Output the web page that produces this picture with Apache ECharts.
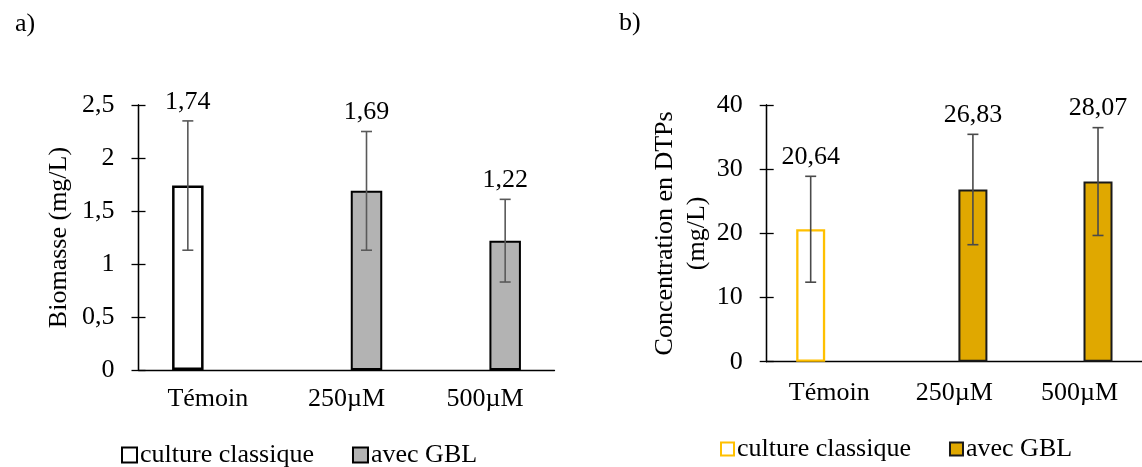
<!DOCTYPE html>
<html>
<head>
<meta charset="utf-8">
<script src="https://cdn.jsdelivr.net/npm/echarts@6/dist/echarts.min.js"></script>
<style>
html,body{margin:0;padding:0;background:#fff;}
#c{width:1142px;height:467px;}
</style>
</head>
<body>
<div id="c"></div>
<script>
// ---- data ----
const categories = ['Témoin', '250µM', '500µM'];
const biomasseClassique = [1.74, null, null];
const biomasseGBL = [null, 1.69, 1.22];
const biomasseErr = [0.61, 0.56, 0.39];
const dtpClassique = [20.64, null, null];
const dtpGBL = [null, 26.83, 28.07];
const dtpErr = [8.25, 8.6, 8.4];
const seriesNames = ['culture classique', 'avec GBL'];
const axisA = {min: 0, max: 2.5, interval: 0.5};
const axisB = {min: 0, max: 40, interval: 10};

// ---- style ----
const FONT = 'Liberation Serif';
const FS = 26;
const BW_A = 31.5, GAP_A = 0.27;
const BW_B = 29, GAP_B = 0.28;

function fmt(v) { return String(v).replace('.', ','); }

function errData(cls, gbl, err) {
  return categories.map((c, i) => {
    const side = cls[i] != null ? -1 : 1;
    const v = cls[i] != null ? cls[i] : gbl[i];
    return [i, v, err[i], side];
  });
}

function makeErrRender(bw, gapRatio, color) {
  return function (params, api) {
    const idx = api.value(0), v = api.value(1), e = api.value(2), side = api.value(3);
    const off = side * (bw + bw * gapRatio) / 2;
    const top = api.coord([idx, v + e]);
    const bot = api.coord([idx, v - e]);
    const x = top[0] + off;
    const cap = 5.5;
    const ls = {stroke: color, lineWidth: 1.6};
    return {
      type: 'group',
      children: [
        {type: 'line', shape: {x1: x, y1: top[1], x2: x, y2: bot[1]}, style: ls},
        {type: 'line', shape: {x1: x - cap, y1: top[1], x2: x + cap, y2: top[1]}, style: ls},
        {type: 'line', shape: {x1: x - cap, y1: bot[1], x2: x + cap, y2: bot[1]}, style: ls},
        {type: 'text', style: {x: x, y: top[1] - 19, text: v.toFixed(2).replace('.', ','),
          fontSize: FS, fontFamily: FONT, fill: '#000', align: 'center', verticalAlign: 'middle'}}
      ]
    };
  };
}

function yAxes(gridIndex, ax, name, nameGap) {
  const common = {
    type: 'value', gridIndex: gridIndex, position: 'left',
    min: ax.min, max: ax.max, interval: ax.interval,
    splitLine: {show: false},
    axisLine: {show: true, lineStyle: {color: '#000', width: 1.3}}
  };
  return [
    Object.assign({}, common, {
      name: name, nameLocation: 'middle', nameGap: nameGap,
      nameTextStyle: {fontSize: FS, fontFamily: FONT, color: '#000', lineHeight: 32},
      axisTick: {show: true, length: 7, lineStyle: {color: '#000', width: 1.3}},
      axisLabel: {fontSize: FS, fontFamily: FONT, color: '#000', margin: 24, formatter: fmt}
    }),
    Object.assign({}, common, {
      axisTick: {show: true, inside: true, length: 7, lineStyle: {color: '#000', width: 1.3}},
      axisLabel: {show: false}
    })
  ];
}

function xAxis(gridIndex, margin) {
  return {
    type: 'category', gridIndex: gridIndex, data: categories,
    axisLine: {show: true, lineStyle: {color: '#000', width: 1.3}},
    axisTick: {show: false},
    axisLabel: {interval: 0, fontSize: FS, fontFamily: FONT, color: '#000', margin: margin}
  };
}

const chart = echarts.init(document.getElementById('c'), null, {renderer: 'canvas'});
chart.setOption({
  backgroundColor: '#fff',
  animation: false,
  title: [
    {text: 'a)', left: 10, top: 6, textStyle: {fontSize: FS, fontFamily: FONT, fontWeight: 'normal', color: '#000'}},
    {text: 'b)', left: 614, top: 5, textStyle: {fontSize: FS, fontFamily: FONT, fontWeight: 'normal', color: '#000'}}
  ],
  grid: [
    {left: 138.5, right: 587.5, top: 105, bottom: 97},
    {left: 766.7, right: -8.6, top: 105, bottom: 105.3}
  ],
  xAxis: [xAxis(0, 16), xAxis(1, 18)],
  yAxis: [].concat(
    yAxes(0, axisA, 'Biomasse (mg/L)', 63),
    yAxes(1, axisB, 'Concentration en DTPs\n(mg/L)', 53)
  ),
  legend: [
    {left: 121, top: 442, padding: 0, itemWidth: 15, itemHeight: 15, itemGap: 38, icon: 'rect',
     data: ['a:' + seriesNames[0], 'a:' + seriesNames[1]],
     formatter: n => n.slice(2),
     textStyle: {fontSize: FS, fontFamily: FONT, color: '#000', padding: [0, 0, 0, -2]}},
    {left: 720, top: 436, padding: 0, itemWidth: 13, itemHeight: 13, itemGap: 38, icon: 'rect',
     data: ['b:' + seriesNames[0], 'b:' + seriesNames[1]],
     formatter: n => n.slice(2),
     textStyle: {fontSize: FS, fontFamily: FONT, color: '#000', padding: [0, 0, 0, -2]}}
  ],
  series: [
    {name: 'a:' + seriesNames[0], type: 'bar', xAxisIndex: 0, yAxisIndex: 0, data: biomasseClassique,
     barWidth: BW_A, barGap: (GAP_A * 100) + '%',
     itemStyle: {color: '#fff', borderColor: '#000', borderWidth: 2.5}},
    {name: 'a:' + seriesNames[1], type: 'bar', xAxisIndex: 0, yAxisIndex: 0, data: biomasseGBL,
     barWidth: BW_A, barGap: (GAP_A * 100) + '%',
     itemStyle: {color: '#b3b3b3', borderColor: '#000', borderWidth: 2}},
    {name: 'b:' + seriesNames[0], type: 'bar', xAxisIndex: 1, yAxisIndex: 2, data: dtpClassique,
     barWidth: BW_B, barGap: (GAP_B * 100) + '%',
     itemStyle: {color: '#fff', borderColor: '#ffc000', borderWidth: 2.3}},
    {name: 'b:' + seriesNames[1], type: 'bar', xAxisIndex: 1, yAxisIndex: 2, data: dtpGBL,
     barWidth: BW_B, barGap: (GAP_B * 100) + '%',
     itemStyle: {color: '#e0a800', borderColor: '#1a1a1a', borderWidth: 2}},
    {type: 'custom', xAxisIndex: 0, yAxisIndex: 0, z: 10, clip: false,
     renderItem: makeErrRender(BW_A, GAP_A, '#595959'),
     data: errData(biomasseClassique, biomasseGBL, biomasseErr)},
    {type: 'custom', xAxisIndex: 1, yAxisIndex: 2, z: 10, clip: false,
     renderItem: makeErrRender(BW_B, GAP_B, '#4a4a4a'),
     data: errData(dtpClassique, dtpGBL, dtpErr)}
  ]
});
</script>
</body>
</html>
